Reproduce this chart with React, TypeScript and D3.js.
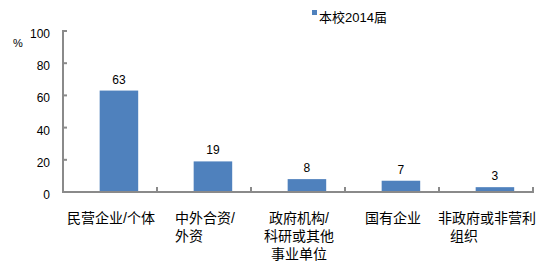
import React from "react";
import * as d3 from "d3";

const categories = ["民营企业/个体", "中外合资/外资", "政府机构/科研或其他事业单位", "国有企业", "非政府或非营利组织"];
const categoryLines = [
  ["民营企业/个体"],
  ["中外合资/", "外资\u3000\u3000 "],
  ["政府机构/", "科研或其他", "事业单位"],
  ["国有企业"],
  ["非政府或非营利", "组织\u3000\u3000\u3000 "],
];
const values = [63, 19, 8, 7, 3];
const yTicks = [0, 20, 40, 60, 80, 100];
const seriesName = "本校2014届";
const unitLabel = "%";

const W = 549;
const H = 267;
const FONT = "'Liberation Sans', Arial, 'Noto Sans CJK SC', sans-serif";
const AXIS = "#8a8a8a";
const BAR = "#4f81bd";

export default function App() {
  const x = d3.scaleBand<string>().domain(categories).range([63, 533]).paddingInner(0).paddingOuter(0);
  const y = d3.scaleLinear().domain([0, 100]).range([192, 31]);
  const bw = x.bandwidth();
  const barOffset = bw * 0.39;
  const barW = bw * 0.41;
  const boundaries = categories.map((c) => (x(c) as number) + bw);

  return (
    <svg width={W} height={H} style={{ position: "absolute", left: 0, top: 0, background: "#fff" }} fontFamily={FONT}>
      {/* legend */}
      <rect x={312} y={10} width={5} height={5} fill={BAR} />
      <text x={319} y={22} fontSize={13} fill="#000">{seriesName}</text>

      {/* unit */}
      <text x={18} y={47} fontSize={11} textAnchor="middle" fill="#000">{unitLabel}</text>

      {/* bars */}
      {categories.map((c, i) => (
        <rect key={c} x={(x(c) as number) + barOffset} y={y(values[i])} width={barW} height={y(0) - y(values[i])} fill={BAR} />
      ))}

      {/* value labels */}
      {categories.map((c, i) => (
        <text key={"v" + c} x={(x(c) as number) + barOffset + barW / 2} y={y(values[i]) - 7} fontSize={12} textAnchor="middle" fill="#000">
          {values[i]}
        </text>
      ))}

      {/* y axis */}
      <line x1={63} x2={63} y1={y(100) - 1} y2={y(0) + 1} stroke={AXIS} strokeWidth={2} />
      {yTicks.map((t) => (
        <g key={t}>
          <line x1={63} x2={67} y1={y(t)} y2={y(t)} stroke={AXIS} strokeWidth={2} />
          <text x={50} y={y(t) + 7} fontSize={12} textAnchor="end" fill="#000">{t}</text>
        </g>
      ))}

      {/* x axis */}
      <line x1={62} x2={534} y1={y(0)} y2={y(0)} stroke={AXIS} strokeWidth={2} />
      {boundaries.map((b, i) => (
        <line key={"t" + i} x1={b} x2={b} y1={y(0)} y2={y(0) - 5} stroke={AXIS} strokeWidth={2} />
      ))}

      {/* category labels */}
      {categories.map((c, i) => (
        <text key={"c" + c} fontSize={14} textAnchor="middle" fill="#000" style={{ whiteSpace: "pre" }}>
          {categoryLines[i].map((ln, j) => (
            <tspan key={j} x={(x(c) as number) + bw / 2 + 1} y={223 + j * 18}>{ln}</tspan>
          ))}
        </text>
      ))}
    </svg>
  );
}
